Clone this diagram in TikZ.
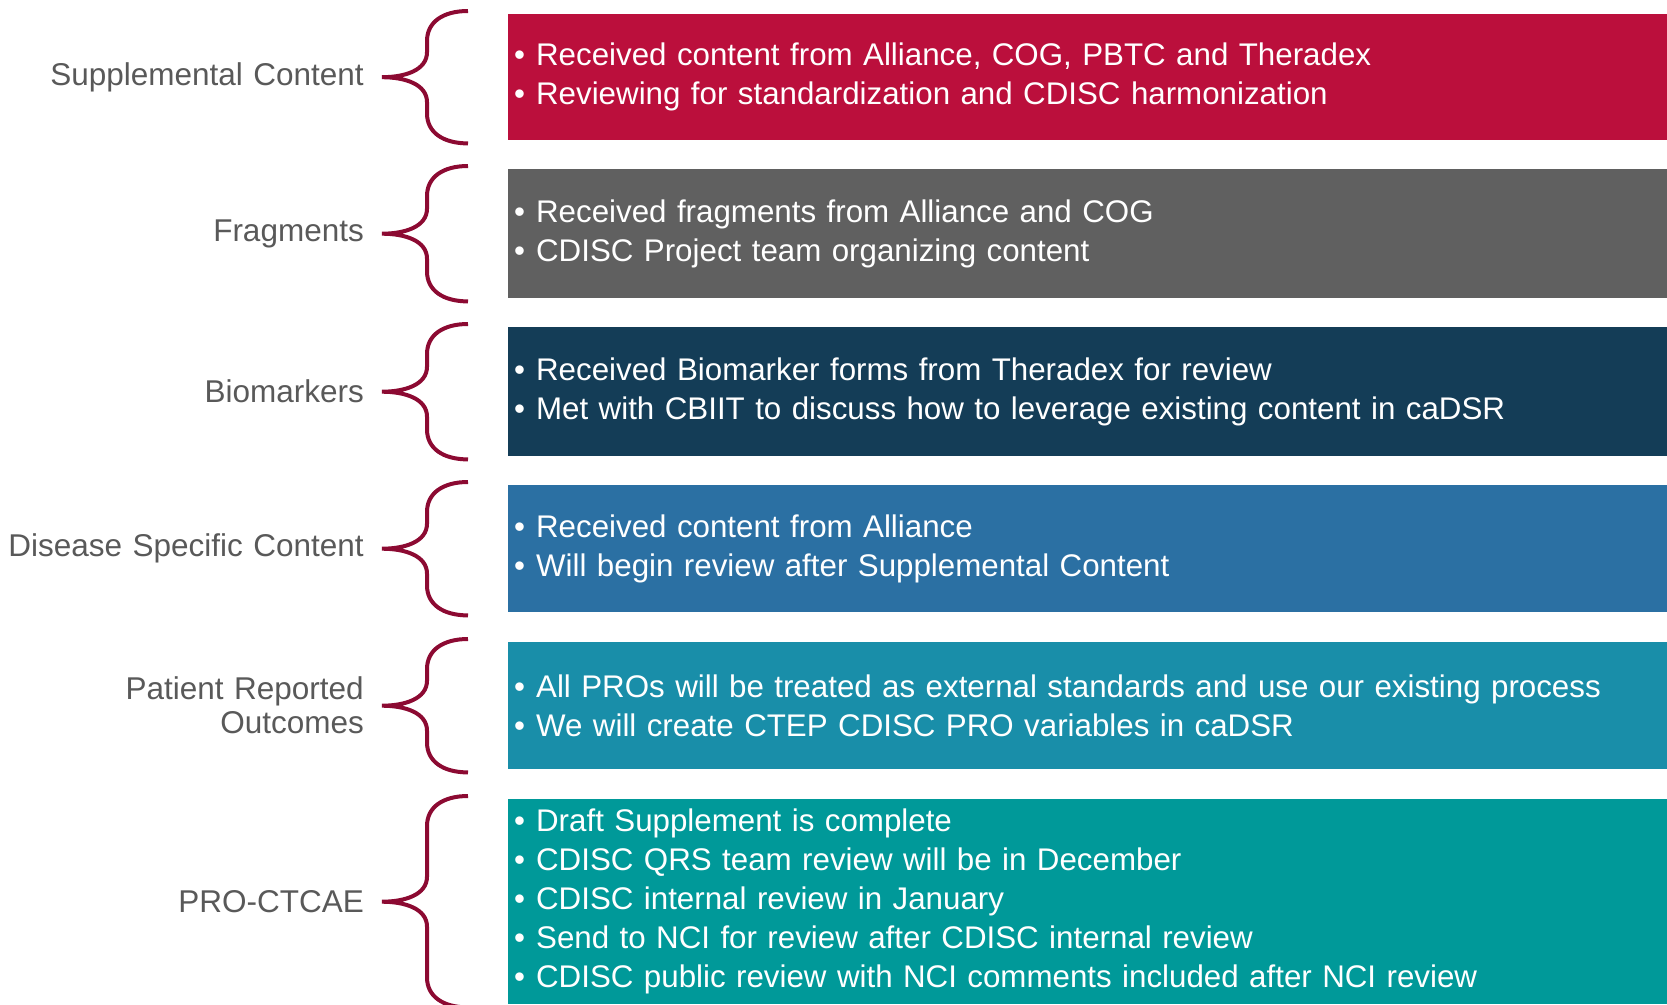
\documentclass[tikz,border=0pt]{standalone}
\usepackage{fontspec}
\setmainfont{Liberation Sans}
\usepackage{tikz}
\usetikzlibrary{positioning,calc}

\definecolor{supRed}{RGB}{187,15,60}
\definecolor{fragGray}{RGB}{96,96,96}
\definecolor{bioNavy}{RGB}{20,61,87}
\definecolor{disBlue}{RGB}{43,112,163}
\definecolor{proTeal}{RGB}{25,142,169}
\definecolor{ctcTeal}{RGB}{0,153,153}
\definecolor{braceRed}{RGB}{140,10,50}
\definecolor{labelGray}{RGB}{89,89,89}

% fonts with a bit wider word spacing
\newcommand{\boxfont}{\fontsize{31.3}{39}\selectfont\spaceskip=9.9pt plus 2pt minus 1pt\relax}
\newcommand{\topicfont}{\fontsize{31.5}{34}\selectfont\spaceskip=10.5pt plus 2pt minus 1pt\relax}
% bullet in front of each status line
\newcommand{\itm}{\textbullet\hspace{11pt}}

% curly brace in front of a status box
\newcommand{\statusbrace}[1]{%
  \draw[bracestroke] let \p1=(#1.north west), \p2=(#1.south west), \p3=(#1.west) in
    (\x1-40pt,\y1+3pt) .. controls (\x1-65pt,\y1+3pt) and (\x1-81pt,\y1-8pt) .. (\x1-81pt,\y1-27pt)
    -- (\x3-81pt,\y3+25pt) .. controls (\x3-81pt,\y3+7pt) and (\x3-103pt,\y3) .. (\x3-126pt,\y3)
    .. controls (\x3-103pt,\y3) and (\x3-81pt,\y3-7pt) .. (\x3-81pt,\y3-25pt)
    -- (\x2-81pt,\y2+27pt) .. controls (\x2-81pt,\y2+8pt) and (\x2-65pt,\y2-3pt) .. (\x2-40pt,\y2-3pt);
}

\begin{document}
\begin{tikzpicture}[x=1pt,y=-1pt,
    statusbox/.style={anchor=north west, minimum width=1159pt, text width=1147pt,
      inner xsep=6pt, inner ysep=0pt, align=left, text=white, font=\boxfont},
    topic/.style={left=144pt of #1.west, anchor=east, align=right, text=labelGray,
      inner sep=0pt, font=\topicfont},
    bracestroke/.style={draw=braceRed, line width=4pt}]
\useasboundingbox (0,0) rectangle (1667,1004);

% status boxes
\node[statusbox, fill=supRed, minimum height=126pt] (sup) at (508,14)
  {\itm Received content from Alliance, COG, PBTC and Theradex\\
   \itm Reviewing for standardization and CDISC harmonization};
\node[statusbox, fill=fragGray, minimum height=129pt] (frag) at (508,169)
  {\itm Received fragments from Alliance and COG\\
   \itm CDISC Project team organizing content};
\node[statusbox, fill=bioNavy, minimum height=129pt] (bio) at (508,327)
  {\itm Received Biomarker forms from Theradex for review\\
   \itm Met with CBIIT to discuss how to leverage existing content in caDSR};
\node[statusbox, fill=disBlue, minimum height=127pt] (dis) at (508,485)
  {\itm Received content from Alliance\\
   \itm Will begin review after Supplemental Content};
\node[statusbox, fill=proTeal, minimum height=127pt] (pro) at (508,642)
  {\itm All PROs will be treated as external standards and use our existing process\\
   \itm We will create CTEP CDISC PRO variables in caDSR};
\node[statusbox, fill=ctcTeal, minimum height=205pt] (ctc) at (508,799)
  {\itm Draft Supplement is complete\\
   \itm CDISC QRS team review will be in December\\
   \itm CDISC internal review in January\\
   \itm Send to NCI for review after CDISC internal review\\
   \itm CDISC public review with NCI comments included after NCI review};

% topic labels
\node[topic=sup] (supLabel) {Supplemental Content};
\node[topic=frag] (fragLabel) {Fragments};
\node[topic=bio] (bioLabel) {Biomarkers};
\node[topic=dis] (disLabel) {Disease Specific Content};
\node[topic=pro] (proLabel) {Patient Reported\\Outcomes};
\node[topic=ctc] (ctcLabel) {PRO-CTCAE};

% braces
\foreach \b in {sup,frag,bio,dis,pro,ctc}
  {\statusbrace{\b}}
\end{tikzpicture}
\end{document}
